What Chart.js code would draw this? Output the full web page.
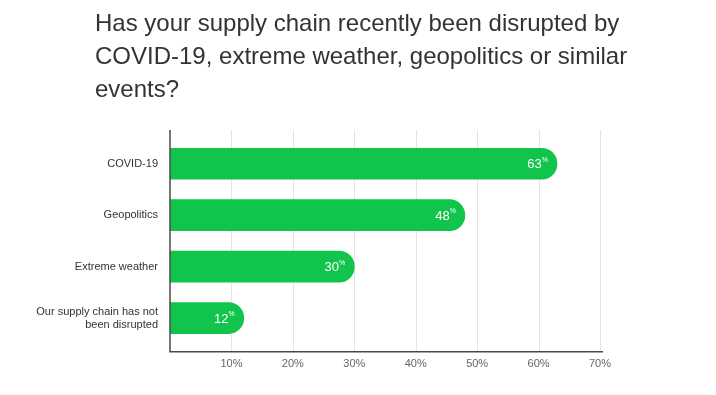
<!DOCTYPE html>
<html>
<head>
<meta charset="utf-8">
<script src="https://cdn.jsdelivr.net/npm/chart.js@4.4.0/dist/chart.umd.min.js"></script>
<style>
    html, body { margin: 0; padding: 0; background: #fff; }
    #wrap { position: relative; width: 716px; height: 395px; }
    #title {
        position: absolute; left: 95px; top: 6px;
        font-family: "Liberation Sans", Arial, sans-serif;
        font-size: 24px; line-height: 33px; color: #333;
    }
</style>
</head>
<body>
<div id="wrap">
    <div id="title">Has your supply chain recently been disrupted by<br>COVID-19, extreme weather, geopolitics or similar<br>events?</div>
    <canvas id="chart" width="716" height="395"></canvas>
</div>
<script>
const categories = ['COVID-19', 'Geopolitics', 'Extreme weather', ['Our supply chain has not', 'been disrupted']];
const values = [63, 48, 30, 12];
const xTicks = [10, 20, 30, 40, 50, 60, 70];

const green = '#10c44c';

// grid + axis lines that reach a bit past the category band
const frame = {
    id: 'frame',
    beforeDatasetsDraw(chart) {
        const ctx = chart.ctx;
        const x = chart.scales.x;
        const area = chart.chartArea;
        const top = area.top - 8, bottom = area.bottom + 8;
        ctx.save();
        ctx.strokeStyle = '#e4e4e4';
        ctx.lineWidth = 1;
        xTicks.forEach(v => {
            const px = Math.round(x.getPixelForValue(v)) + 0.5;
            ctx.beginPath();
            ctx.moveTo(px, top);
            ctx.lineTo(px, bottom);
            ctx.stroke();
        });
        ctx.restore();
    },
    afterDatasetsDraw(chart) {
        const ctx = chart.ctx;
        const x = chart.scales.x;
        const area = chart.chartArea;
        const top = area.top - 8, bottom = area.bottom + 8;
        ctx.save();
        ctx.strokeStyle = '#4a4a4a';
        ctx.lineWidth = 1.5;
        ctx.beginPath();
        ctx.moveTo(x.getPixelForValue(0), top);
        ctx.lineTo(x.getPixelForValue(0), bottom);
        ctx.lineTo(x.getPixelForValue(70) + 3, bottom);
        ctx.stroke();

        // value labels with a small raised %
        const meta = chart.getDatasetMeta(0);
        ctx.fillStyle = '#fff';
        ctx.textBaseline = 'middle';
        meta.data.forEach((bar, i) => {
            const right = bar.x - 9;
            ctx.font = '7px "Liberation Sans", Arial, sans-serif';
            ctx.textAlign = 'right';
            const pw = ctx.measureText('%').width;
            ctx.fillText('%', right, bar.y - 4);
            ctx.font = '13px "Liberation Sans", Arial, sans-serif';
            ctx.fillText(String(values[i]), right - pw, bar.y + 1);
        });
        ctx.restore();
    }
};

new Chart(document.getElementById('chart'), {
    type: 'bar',
    data: {
        labels: categories,
        datasets: [{
            data: values,
            backgroundColor: green,
            borderRadius: 16,
            borderSkipped: 'start',
            barThickness: 31
        }]
    },
    options: {
        indexAxis: 'y',
        responsive: false,
        animation: false,
        layout: {
            padding: { top: 138, right: 116, bottom: 10, left: 0 }
        },
        plugins: {
            legend: { display: false },
            tooltip: { enabled: false }
        },
        scales: {
            x: {
                min: 0,
                max: 70,
                grid: { display: false, drawTicks: false },
                border: { display: false },
                ticks: {
                    stepSize: 10,
                    padding: 14,
                    color: '#666',
                    font: { family: '"Liberation Sans", Arial, sans-serif', size: 11 },
                    callback: v => v === 0 ? '' : v + '%'
                }
            },
            y: {
                grid: { display: false, drawTicks: false },
                border: { display: false },
                afterFit(scale) { scale.width = 170; },
                ticks: {
                    padding: 12,
                    color: '#333',
                    font: { family: '"Liberation Sans", Arial, sans-serif', size: 11 }
                }
            }
        }
    },
    plugins: [frame]
});
</script>
</body>
</html>
